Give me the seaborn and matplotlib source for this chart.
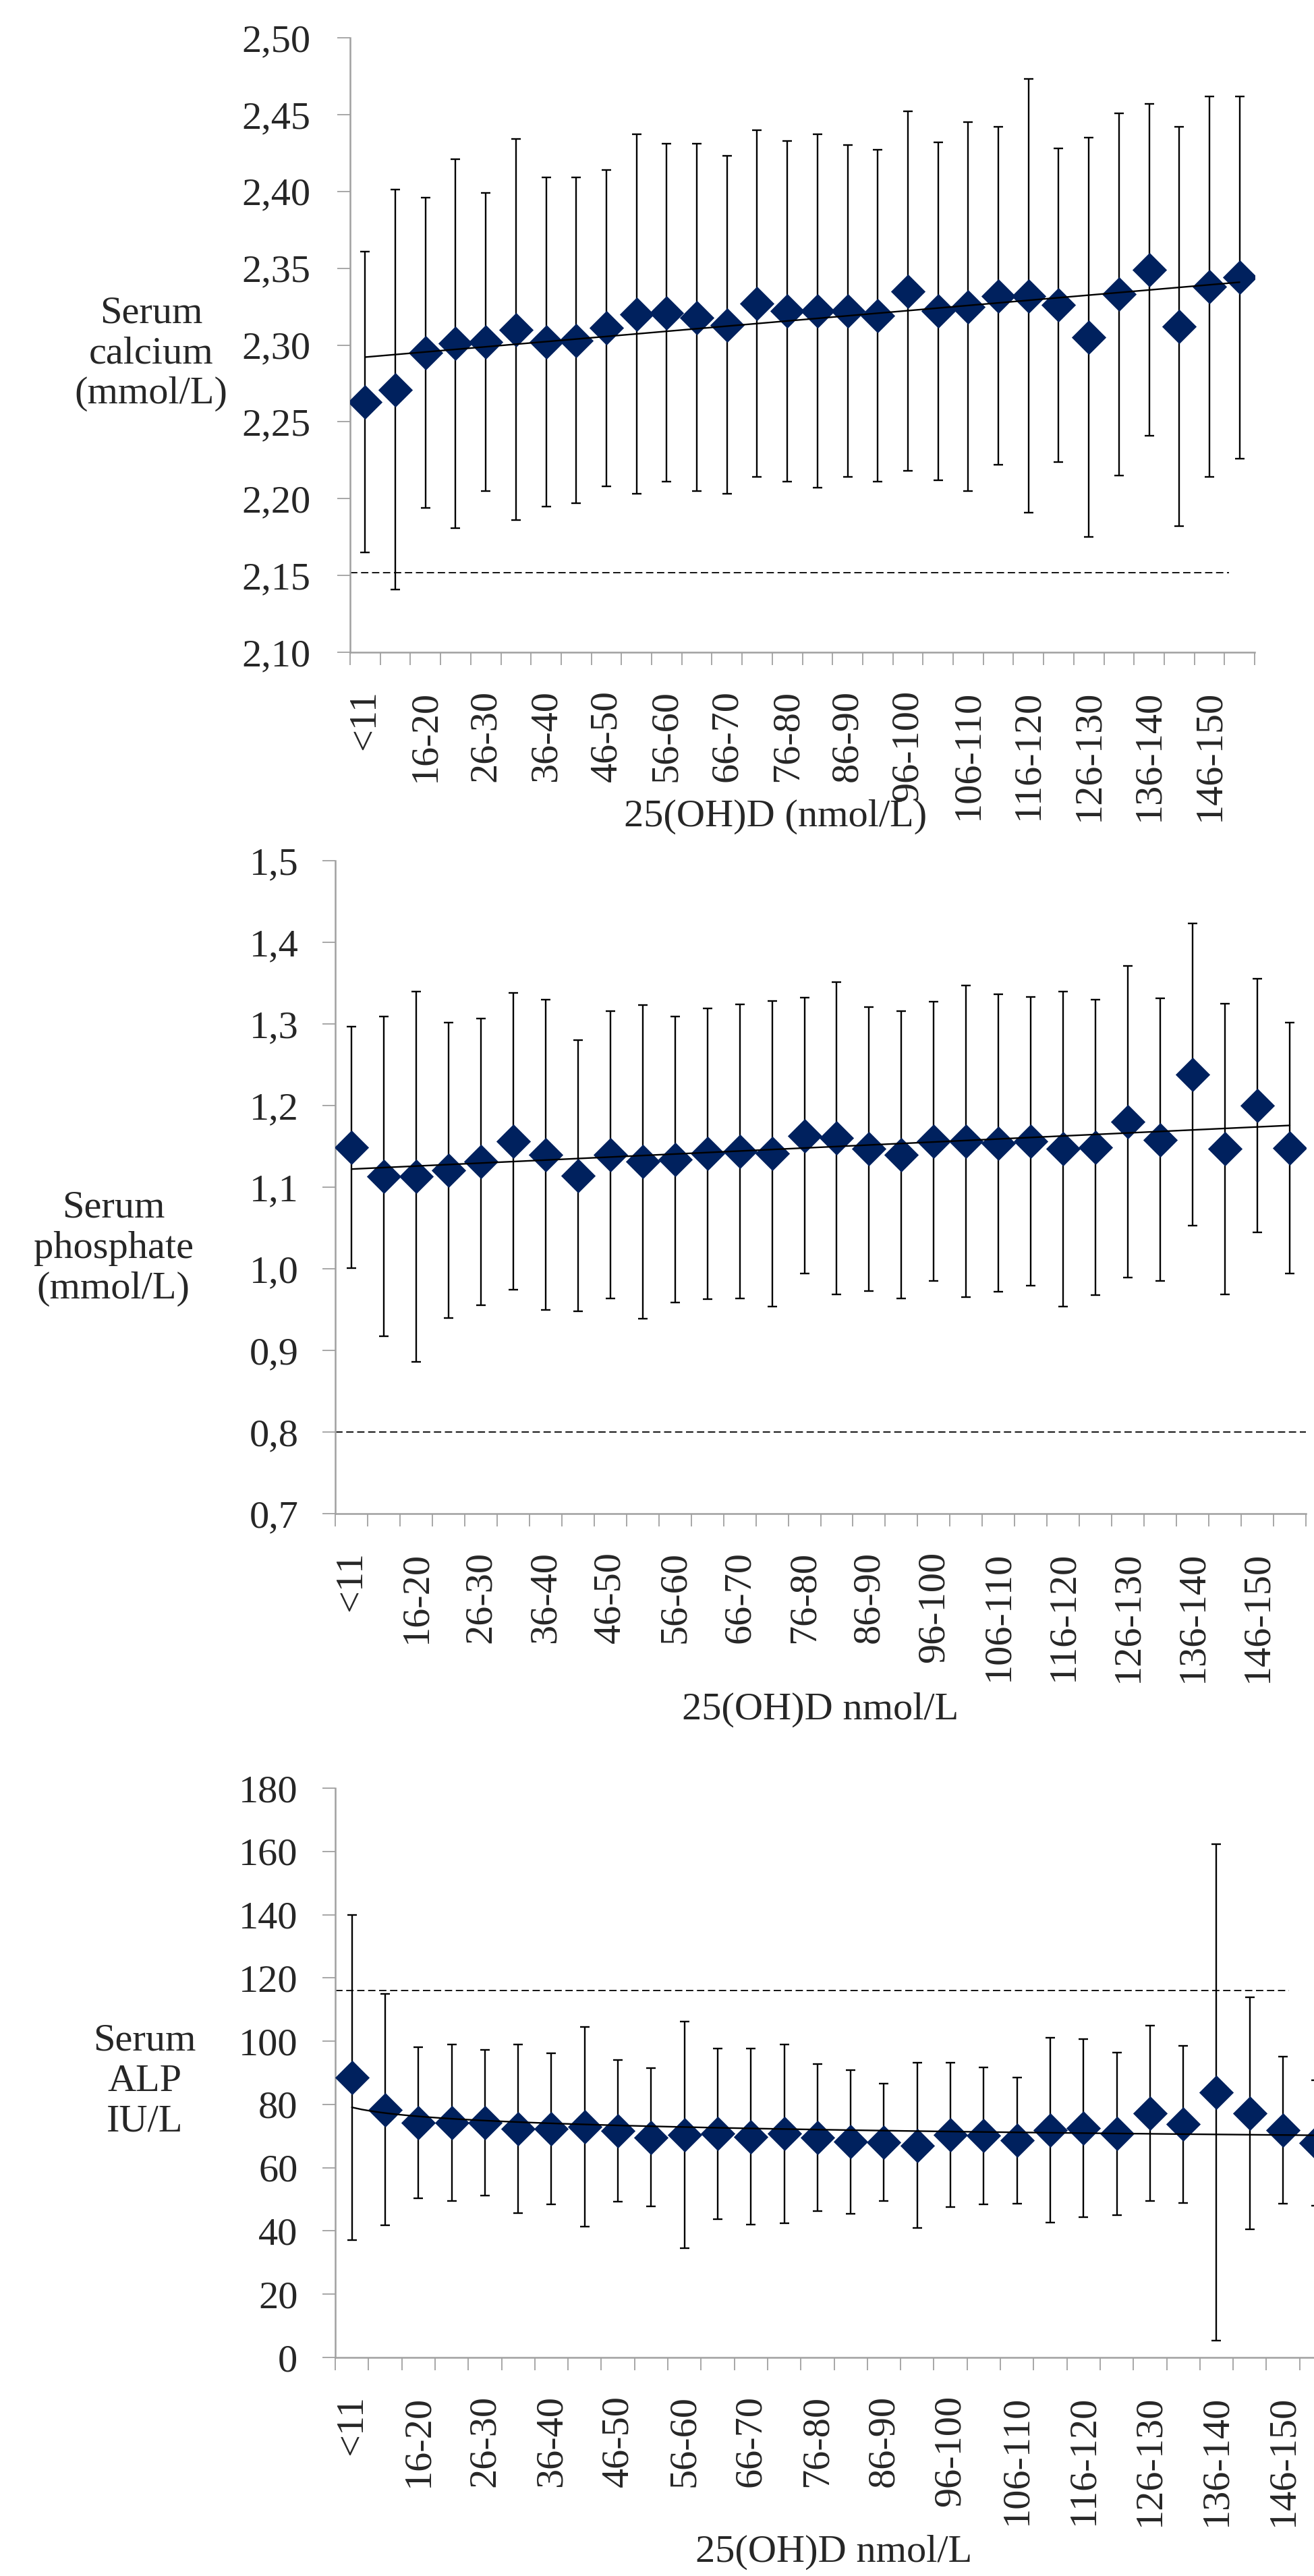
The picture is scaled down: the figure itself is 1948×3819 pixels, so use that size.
import numpy as np
import pandas as pd
import matplotlib
matplotlib.use("Agg")
import matplotlib.pyplot as plt
import seaborn as sns
from matplotlib.ticker import FuncFormatter

# ---------------- data ----------------
categories = ["<11", "11-15", "16-20", "21-25", "26-30", "31-35", "36-40", "41-45",
              "46-50", "51-55", "56-60", "61-65", "66-70", "71-75", "76-80", "81-85",
              "86-90", "91-95", "96-100", "101-105", "106-110", "111-115", "116-120",
              "121-125", "126-130", "131-135", "136-140", "141-145", "146-150", ">150"]

calcium_mean = [2.263, 2.271, 2.295, 2.301, 2.302, 2.310, 2.302, 2.303, 2.311, 2.320,
                2.321, 2.318, 2.313, 2.327, 2.322, 2.322, 2.322, 2.319, 2.335, 2.322,
                2.325, 2.332, 2.332, 2.326, 2.305, 2.333, 2.349, 2.312, 2.338, 2.344]
calcium_sd = [0.098, 0.130, 0.101, 0.120, 0.097, 0.124, 0.107, 0.106, 0.103, 0.117,
              0.110, 0.113, 0.110, 0.113, 0.111, 0.115, 0.108, 0.108, 0.117, 0.110,
              0.120, 0.110, 0.141, 0.102, 0.130, 0.118, 0.108, 0.130, 0.124, 0.118]

phosphate_mean = [1.149, 1.113, 1.113, 1.121, 1.131, 1.156, 1.140, 1.114, 1.140, 1.131,
                  1.134, 1.141, 1.144, 1.141, 1.163, 1.160, 1.147, 1.140, 1.156, 1.156,
                  1.154, 1.156, 1.147, 1.149, 1.180, 1.158, 1.238, 1.147, 1.200, 1.148]
phosphate_sd = [0.148, 0.196, 0.227, 0.181, 0.176, 0.182, 0.190, 0.166, 0.176, 0.192,
                0.175, 0.178, 0.180, 0.187, 0.169, 0.191, 0.174, 0.176, 0.171, 0.191,
                0.182, 0.177, 0.193, 0.181, 0.191, 0.173, 0.185, 0.178, 0.155, 0.154]

alp_mean = [88.6, 78.3, 74.2, 74.2, 74.2, 72.3, 72.3, 72.9, 71.7, 69.6,
            70.4, 70.7, 69.8, 70.7, 69.5, 68.2, 68.0, 67.0, 70.4, 70.1,
            68.6, 71.9, 72.5, 70.7, 77.2, 73.7, 83.9, 77.2, 71.9, 67.8]
alp_sd = [51.4, 36.6, 23.9, 24.7, 23.0, 26.7, 23.9, 31.5, 22.4, 21.9,
          35.8, 27.0, 27.8, 28.2, 23.3, 22.7, 18.5, 26.1, 22.9, 21.6,
          20.0, 29.2, 28.1, 25.6, 27.8, 24.8, 78.5, 36.6, 23.3, 19.8]

# reference (normal-range) limits
calcium_ref = 2.152
phosphate_ref = 0.80
alp_ref = 116

y_labels = ["Serum\ncalcium\n(mmol/L)", "Serum\nphosphate\n(mmol/L)", "Serum\nALP\nIU/L"]
x_labels = ["25(OH)D (nmol/L)", "25(OH)D nmol/L", "25(OH)D nmol/L"]

# ---------------- style ----------------
NAVY = "#00215E"
AXIS_GREY = "#A0A0A0"
FS = 42

sns.set_theme(style="ticks")
plt.rcParams["font.family"] = ["Liberation Serif", "DejaVu Serif"]
plt.rcParams["mathtext.default"] = "regular"

W, H = 1948, 3819
fig = plt.figure(figsize=(W / 100, H / 100), dpi=100)

panels = [
    dict(mean=calcium_mean, sd=calcium_sd, ref=calcium_ref, ylim=(2.10, 2.50), step=0.05,
         fmt="{:.2f}", logx=False, box=(519, 56, 1860, 967), ref_end=29.65,
         ylab_xy=(-0.220, 0.486), xlab_xy=(0.470, -0.268), ypad=28,
         ylabel=y_labels[0], xlabel=x_labels[0]),
    dict(mean=phosphate_mean, sd=phosphate_sd, ref=phosphate_ref, ylim=(0.7, 1.5), step=0.1,
         fmt="{:.1f}", logx=False, box=(497, 1276, 1936, 2244), ref_end=30.5,
         ylab_xy=(-0.2286, 0.406), xlab_xy=(0.500, -0.300), ypad=25,
         ylabel=y_labels[1], xlabel=x_labels[1]),
    dict(mean=alp_mean, sd=alp_sd, ref=alp_ref, ylim=(0, 180), step=20,
         fmt="{:.0f}", logx=True, box=(497, 2651, 1976, 3495), ref_end=29.18,
         ylab_xy=(-0.191, 0.4846), xlab_xy=(0.4997, -0.342), ypad=26,
         ylabel=y_labels[2], xlabel=x_labels[2]),
]

n = len(categories)
pos = np.arange(1, n + 1)

for p in panels:
    x0, y0, x1, y1 = p["box"]
    ax = fig.add_axes([x0 / W, 1 - y1 / H, (x1 - x0) / W, (y1 - y0) / H])
    df = pd.DataFrame({"pos": pos, "cat": categories, "mean": p["mean"], "sd": p["sd"]})

    # reference line
    ax.hlines(p["ref"], 0.5, p["ref_end"], colors="black", linestyles=(0, (6, 3)),
              linewidth=1.3, zorder=1)
    # SD error bars
    ax.errorbar(df["pos"], df["mean"], yerr=df["sd"], fmt="none", ecolor="black",
                elinewidth=1.7, capsize=5, capthick=1.7, zorder=2)
    # markers
    sns.scatterplot(data=df, x="pos", y="mean", marker="D", s=680, color=NAVY,
                    edgecolor=NAVY, linewidth=0, zorder=3, ax=ax, legend=False)
    # trend line
    sns.regplot(data=df, x="pos", y="mean", scatter=False, ci=None, logx=p["logx"],
                line_kws=dict(color="black", linewidth=1.7, zorder=4), ax=ax)

    ax.set_xlim(0.5, n + 0.5)
    ax.set_ylim(*p["ylim"])
    lo, hi = p["ylim"]
    ax.set_yticks(np.arange(lo, hi + p["step"] / 2, p["step"]))
    fmt = p["fmt"]
    ax.yaxis.set_major_formatter(FuncFormatter(lambda v, _p, f=fmt: f.format(v).replace(".", ",")))

    ax.set_xticks(pos[::2])
    ax.set_xticklabels(categories[::2], rotation=90)
    ax.set_xticks(np.arange(0.5, n + 1.5, 1), minor=True)
    ax.tick_params(axis="x", which="major", length=0, pad=40, labelsize=FS, bottom=True)
    ax.tick_params(axis="x", which="minor", length=14, width=1.3, color=AXIS_GREY,
                   direction="out", bottom=True)
    ax.tick_params(axis="y", which="major", length=14, width=1.3, color=AXIS_GREY,
                   direction="out", pad=p["ypad"], labelsize=FS, left=True)
    ax.tick_params(axis="y", which="minor", left=False)

    for s in ("top", "right"):
        ax.spines[s].set_visible(False)
    for s in ("left", "bottom"):
        ax.spines[s].set_color(AXIS_GREY)
        ax.spines[s].set_linewidth(1.8)

    ax.set_ylabel(p["ylabel"], rotation=0, fontsize=FS, ha="center", va="center",
                  multialignment="center")
    ax.yaxis.set_label_coords(*p["ylab_xy"])
    ax.set_xlabel(p["xlabel"], fontsize=FS, ha="center", va="center")
    ax.xaxis.set_label_coords(*p["xlab_xy"])
    ax.grid(False)

fig.savefig("out.png", dpi=100, facecolor="white")
